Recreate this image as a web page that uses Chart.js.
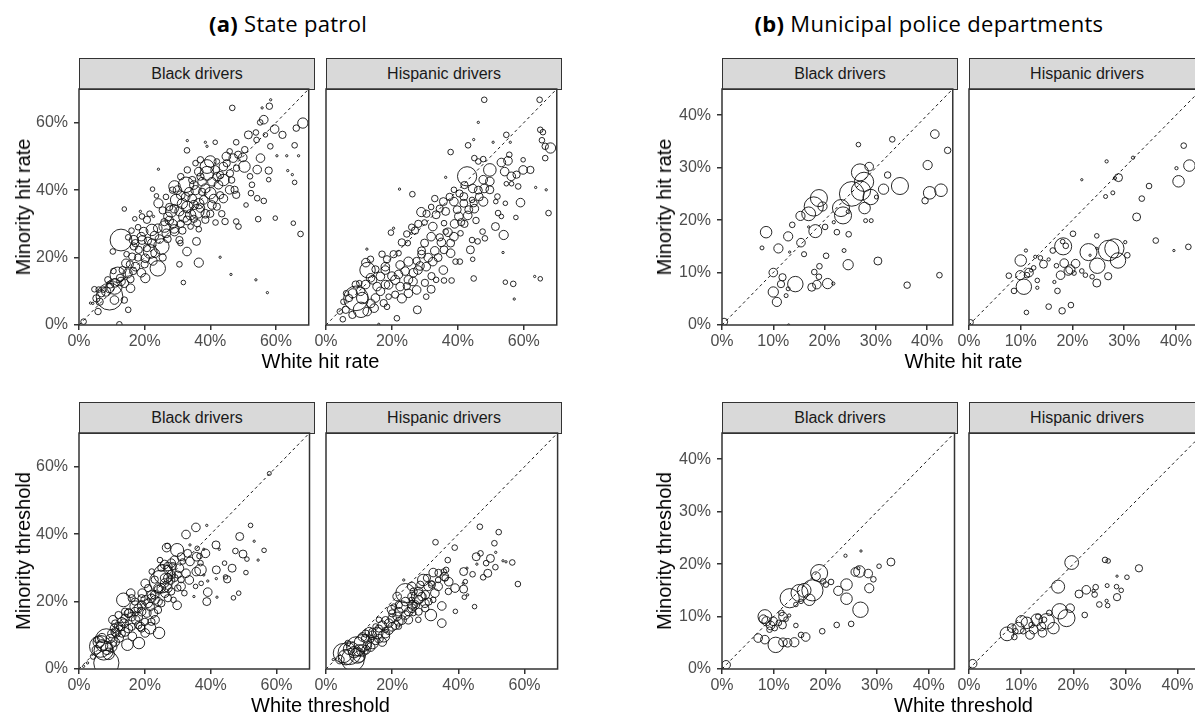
<!DOCTYPE html>
<html><head><meta charset="utf-8">
<script src="https://cdn.jsdelivr.net/npm/chart.js@4.4.1/dist/chart.umd.min.js"></script>
<style>
html,body{margin:0;padding:0;background:#fff;}
#page{position:relative;width:1195px;height:715px;overflow:hidden;background:#fff;font-family:"Liberation Sans",Arial,sans-serif;}
.strip{position:absolute;box-sizing:border-box;background:#d9d9d9;border:1.5px solid #333;color:#1a1a1a;font-size:16px;display:flex;align-items:center;justify-content:center;line-height:1;}
.cv{position:absolute;}
.gt{position:absolute;font-family:"Open Sans",Lato,sans-serif;font-size:22px;letter-spacing:0.3px;color:#000;transform:translate(-50%,-50%);white-space:nowrap;line-height:1;}
.xt{position:absolute;font-size:20px;color:#000;transform:translate(-50%,-50%);white-space:nowrap;line-height:1;}
.yt{position:absolute;font-size:20px;color:#000;transform:translate(-50%,-50%) rotate(-90deg);white-space:nowrap;line-height:1;}
</style></head><body><div id="page"></div>
<script>
// ---------- data (values in %, third value = relative stop volume) ----------
const groupTitles = [['(a)', ' State patrol'], ['(b)', ' Municipal police departments']];
const facetLabels = ['Black drivers', 'Hispanic drivers'];
const yTitles = ['Minority hit rate', 'Minority threshold'];
const xTitles = ['White hit rate', 'White threshold'];
const stateTicks = [0, 20, 40, 60];
const muniTicks = [0, 10, 20, 30, 40];
const stateMax = 70;
const muniMax = 45;

const stateHitBlack = [[46.7,64.4,6],[55.8,64.4,1],[58,64.9,8],[58.4,66.8,1],[56.3,60.9,14],[55.2,60.1,6],[68.2,59.9,20],[66.2,58.4,8],[59.6,58.1,14],[62,56.4,10],[51.6,56.4,12],[53.9,57.1,6],[56.8,56.4,4],[54.1,54.9,6],[33,54.7,1],[32.9,51.8,6],[38.5,54.2,1],[41.5,54.2,4],[47.9,54.2,6],[58.3,53,6],[65.7,53.3,6],[39,53,1],[24.2,46.2,1],[60.3,50.2,1],[63.3,50.2,1],[66.9,50.2,1],[57.8,45.8,10],[63.6,45.8,1],[65,44.6,1],[65.7,42.3,4],[57.8,43.1,4],[52.1,44.1,6],[52.7,41.6,6],[54.3,46.1,14],[55.3,49.5,14],[49.9,49.7,14],[50.4,47,25],[54.3,37.6,6],[56.3,36.8,6],[52.4,39.1,6],[50.9,35.6,4],[54.6,31.4,6],[59.8,31.7,4],[65.3,30.2,4],[67.5,27,6],[47.9,30.7,6],[48.6,29.2,6],[44.5,30.7,8],[43,20.1,1],[46.3,15,1],[53.9,13.4,1],[57.4,9.6,1],[31.8,12.6,4],[30.6,18,6],[32.9,21.8,14],[36.5,18.5,16],[35.8,24.8,12],[30.9,24.3,6],[13.8,34.4,4],[12.8,25.2,90],[10.3,21.8,6],[24,16.8,45],[25.1,23.3,45],[22.2,28.2,25],[24.2,36.1,16],[22.4,40.3,4],[23.6,38.3,4],[9.3,8.4,135],[11.8,14.9,45],[10.8,11.4,45],[14.8,15.3,16],[17.2,17.3,14],[15.7,10.9,14],[20.2,13.9,16],[20.2,19.8,14],[16.7,25.2,16],[19,26.2,14],[21.7,21.8,36],[4.7,10.6,6],[4.2,6.4,1],[5.8,4,8],[1.4,1,6],[15,4.5,6],[12.3,0.2,6],[32.6,41.6,45],[29.1,41.1,25],[40,48.5,25],[42,48.5,6],[44.9,50,14],[45.9,51.5,6],[44,47,14],[39,47,36],[39,45,36],[36.5,45.5,14],[42,44,14],[44,43,25],[45.9,40.1,14],[47.4,40.1,10],[47.9,38.6,10],[42.5,41.6,14],[40,39.1,25],[38,37.1,14],[40.5,35.6,14],[36,33.7,36],[34,32.7,20],[32.1,32.2,25],[30.6,33.7,16],[29.6,37.1,25],[28.1,33.7,25],[27.1,32.2,14],[26.1,29.2,25],[24,28.7,14],[26.6,27.2,14],[29.1,27.7,14],[30.6,25.2,10],[28.6,30,14],[35,35.6,16],[37,34.7,14],[42,35.1,10],[38.5,31.2,10],[41.6,30.4,6],[36,30.2,10],[34,29.2,6],[36.5,28.4,6],[19.2,32.2,6],[18.7,33.7,1],[22.7,32.2,1],[20.7,31.2,10],[19.7,27.7,14],[19.2,25.2,14],[17.2,24.3,10],[16.7,23.3,10],[18.2,22.3,10],[20.7,22.8,10],[16.2,20.3,10],[14.3,18.3,14],[13.3,16.3,10],[8.8,13.4,8],[8.3,9.9,16],[6.8,9.4,10],[5.3,7.9,10],[6.3,6.9,10],[9.3,10.9,16],[12.8,12.9,14],[13.8,12.4,14],[15.7,13.6,10],[13.8,7.4,8],[10.8,7.4,14],[22.2,24.3,14],[23.2,21.3,14],[33.5,39.5,14],[31,38.5,14],[35.5,40,16],[37.5,42.5,14],[34.5,43,10],[31,30,10],[27.5,35,10],[25.5,34,10],[37.5,39.5,10],[43,38.5,10],[46,45,10],[48,46.5,8],[44,37.5,14],
 [30,40,14],[31.5,36,20],[33,35,25],[34.5,37.5,14],[36.5,36,20],[38.5,40.5,16],[40.5,42.5,14],[41.5,46,14],[43,44.5,10],[45,48,10],[46.5,43,8],[37,44,10],[35,41.5,14],[32.5,38,14],[29,34.5,14],[27.5,31,14],[26,30.5,10],[29,28.5,14],[31.5,28,10],[33,31,14],[35,31.5,10],[38.5,33,14],[40,33,10],[43.5,33,8],[41,37.5,14],[23,26.5,14],[24.5,25.5,14],[21,25,10],[18,20,10],[15.5,18,10],[12.5,14,10],[11,12.5,14],[9.5,12,10],[7.5,10.5,6],[6,10.5,6],[3.5,6.5,1],[16.5,16,10],[19,15.5,14],[22.5,19,14],[27,25.5,10],[25.5,20,10],[20,18,10],[14.5,21,6],[10.5,16,6],[47,49.5,14],[48.5,50.5,10],[50.5,52,8],[37,49,8],[35.5,48,6],[33,46,8],[31,44,8],[28.5,40,8],[26.5,38,6],[21.5,33,6],[17,31.5,4],[18,29,6],[16,28,6],[15,26,6]];

const stateHitHispanic = [[48,66.8,6],[64.8,66.8,6],[46.2,60.1,1],[54.7,56.4,6],[65,57.9,6],[65.8,57.2,6],[44.8,55,1],[43.1,53.3,6],[50.7,54.2,1],[55.9,54.2,1],[65.5,54.8,6],[66.5,53,8],[68.1,52.5,20],[37.8,51.3,6],[55.6,50.5,6],[59.8,49,4],[66.5,49.5,6],[55.2,48.7,14],[53.2,48.2,14],[45,49.5,6],[47.7,49.2,6],[46.2,48.5,6],[49.7,46,30],[42.8,44.1,70],[47.7,43.1,14],[49.7,42.6,14],[49.7,40.1,12],[54.2,45.5,14],[56.2,44.1,14],[57.8,44.6,10],[59.8,46,14],[62,46,10],[54.7,41.9,4],[56.3,41.9,4],[58.3,41.1,6],[63.6,40.8,1],[66.8,40.1,1],[67.5,33.2,6],[59,36.3,14],[52,38.1,6],[51.5,36.6,4],[54.4,36.1,4],[52.2,33.2,6],[53.2,32.2,4],[57.6,31.9,4],[51.4,29.2,12],[53.9,26.7,16],[47.5,27.7,6],[48.2,25.7,6],[46,24.8,6],[44.3,25.2,6],[43.8,22.3,12],[44.5,19.5,4],[44.8,13.8,6],[53.7,21.5,1],[54.4,12.7,4],[56.8,12.2,6],[57.1,7.7,1],[63.3,14.4,1],[65,13.7,4],[36.3,43.8,1],[26.2,38.8,6],[22.3,40.3,1],[28.9,33.5,16],[33.4,32.7,12],[29.9,30.4,6],[31.9,35,6],[19.7,27.4,6],[20.5,28.7,1],[12.4,22.5,1],[12.1,18.5,14],[12.6,16.3,45],[9.1,7.9,115],[10.6,4.5,45],[8.1,9.4,16],[6.1,9.4,6],[5.3,6.9,6],[4.2,4,6],[5.1,1.7,6],[21.5,2,6],[16,0.2,1],[27.7,4.5,12],[14.6,5,14],[13.6,6.4,14],[14.1,13.4,14],[16.5,14.4,14],[18,16.3,14],[19,11.9,14],[21,13.4,16],[22.5,11.4,14],[23,7.9,16],[19,8.4,6],[18.5,5.4,6],[25,9.4,14],[27.5,10.4,14],[30.4,8.4,6],[31.9,10.6,12],[25,13.4,14],[26.4,12.9,14],[27.9,16.3,14],[30.4,17.3,14],[32.4,18.8,14],[35.6,16.3,14],[35.8,13.2,6],[38.1,13.2,6],[33.4,13.4,6],[25,18.8,16],[22.5,17.8,14],[22,21.3,6],[24.8,24.3,6],[25.9,27.2,1],[29.9,24.3,12],[31.9,26.2,14],[32.4,29.2,14],[35.8,30.2,6],[36.3,27.7,6],[38.8,26.2,14],[37.8,24.3,12],[37.8,21.3,14],[35.8,22.3,12],[39.3,18.8,6],[40.6,18.8,6],[40.8,27.2,6],[40.3,32.2,14],[39.8,34.2,12],[38.8,36.6,14],[41.8,36.1,12],[44.3,37.1,6],[44.8,36.1,10],[41.8,38.1,12],[38.8,40.1,6],[35.6,36.6,12],[36.3,33.7,12],[43.3,34.2,12],[47.7,36.6,16],[46.2,40,12],[18,17.3,14],[15.5,11.4,14],[10.1,12.4,6],[34,20,12],[29,21,12],[27,28,10],[34.5,26,10],[42,30,10],[45.5,31,8],
 [10.5,10,14],[12,12,14],[13.5,14,14],[9,12,10],[7,8,10],[11,8,25],[15,8,14],[16.5,10,14],[18,12,14],[20,14.5,14],[22,15,14],[24,16,14],[26.5,15.5,14],[28.5,17.5,14],[29,22,12],[31,20,14],[33,22,14],[35,24.5,14],[37,27.5,14],[39,30,14],[41,30.5,10],[43,32.5,14],[45,34.5,14],[46.5,38,12],[48,40.5,14],[44.5,40.5,14],[42,41.5,10],[40.5,39,10],[37.5,38,10],[34.5,34.5,10],[33,37.5,8],[30.5,33,10],[28,30,10],[26,29,8],[24.5,27,8],[23,24.5,10],[20.5,21,10],[18.5,19.5,10],[17,21,8],[15,16.5,10],[13.5,19.5,8],[27.5,19,10],[32,14.5,10],[30,12.5,10],[24.5,11.5,10],[21,9,10],[17.5,6.5,10],[12.5,4,14],[8,3,10],[6,4.5,10]];

const muniHitBlack = [[0.4,0.6,10],[13,0,1],[26.6,34.4,4],[33.2,35.4,6],[8.6,17.7,25],[7.8,14.7,3],[11,14.6,16],[12.9,16.9,16],[13.7,19.1,6],[15.3,20.8,16],[15.4,15.7,14],[16,13.5,5],[13.2,13.9,1],[16.9,18.7,1],[16.9,21.2,36],[17.9,22.6,70],[18.9,24.2,55],[19.6,22.6,16],[18.2,17.9,32],[20.1,18.7,6],[20.3,13.2,6],[22.4,17.7,6],[24.7,17.3,6],[23.8,14.2,3],[21.8,19.6,2],[23.2,22.3,55],[23.6,20.9,55],[24.6,21.6,3],[25.3,25,115],[26.9,29.1,55],[27.7,27.3,70],[27.1,25.6,70],[29,24.4,45],[28.7,30.2,14],[27.8,22.3,25],[28,19.9,3],[29.1,19.9,3],[30.1,24.4,3],[31.5,25.9,20],[32.3,28.6,8],[30.4,12.2,12],[24.6,11.5,20],[19,11.2,6],[18,10.1,6],[10,10,14],[11.8,9.1,10],[11.5,7.8,10],[12.9,6.9,3],[14.3,7.8,45],[17.5,7.2,12],[18.5,7.7,14],[20.6,7.9,20],[21.7,7.9,2],[10,6.3,20],[10.7,4.4,16],[12.5,5.6,3],[18.9,9.2,6],[41.5,36.4,14],[44,33.3,8],[40.1,30.5,16],[34.7,26.5,55],[40.5,25.2,30],[42.7,25.7,30],[39.6,23.7,8],[42.4,9.5,6],[36.1,7.6,8]];

const muniHitHispanic = [[0.3,0.5,6],[41.5,34.2,6],[42.6,30.4,25],[40.5,27.4,25],[40.1,29.9,2],[26.6,31.2,2],[31.7,31.9,2],[28.2,28,2],[28.9,28.1,12],[21.8,27.7,1],[34.8,26.5,6],[33.4,24.1,6],[27.8,25.2,3],[26.4,24.5,3],[32.4,20.6,12],[36.1,16.1,6],[39.6,14.2,1],[42.4,14.9,6],[30.2,15.8,2],[30.6,13.3,6],[28.8,12.3,45],[27,14.2,80],[28.1,14.6,70],[26.9,9.3,10],[24.8,11.3,45],[24.7,8,12],[23.1,13.9,55],[23.4,13.3,1],[24.7,17,4],[24.7,14.6,1],[23.8,9.2,4],[22.5,9.5,4],[21.8,10.3,4],[20.1,17.4,6],[20.6,11.7,14],[19.6,10.6,16],[20.3,9.9,4],[19.2,10.3,14],[18.4,11.8,14],[16.9,11.3,4],[17.7,9.5,14],[17.1,6.5,6],[16.5,8.2,2],[18.2,15,55],[18.7,15.1,6],[18.1,15.9,4],[16.2,14.2,6],[14.4,11.6,12],[15.4,12.5,2],[13.8,12.8,4],[12.8,13,2],[11,14.2,2],[10,12.3,25],[9.9,9.5,16],[11.6,10,14],[11.2,9.5,6],[12,10.4,2],[12.5,10.9,4],[10.6,7.3,45],[8.7,6.5,6],[7.7,9.4,6],[13.2,8.5,4],[13.2,7.1,2],[11.1,2.4,4],[15.4,3.5,6],[18,2.7,8],[19.7,3.8,6]];

const stateThrBlack = [[57.8,58,3],[38.8,42.6,1],[35.5,42,14],[32.5,39.9,14],[52.1,42.6,4],[48.8,39.3,12],[53.2,37.9,1],[56.2,35.2,4],[54.4,32.3,1],[41.6,36.8,12],[42.6,35.5,1],[44.2,31.4,4],[46.5,29.9,12],[47.5,35,6],[49.8,34.1,12],[51,32.6,4],[50.7,28.6,4],[45,26.6,10],[44.5,27.3,4],[41.7,29.4,12],[41.7,26.8,1],[39.1,26.1,1],[37.1,25.4,4],[39.1,22.8,14],[38.8,20,12],[41.9,21.3,1],[48.5,22.5,4],[46.9,21.1,4],[34.9,21.5,1],[35.4,24.5,4],[36.9,29.4,25],[35.6,28.9,14],[35.7,33.3,14],[35.9,35.8,4],[33,34.3,12],[31,33.3,12],[29.8,35.3,32],[26.9,36.5,6],[26.6,36,14],[28,31.4,14],[30.5,29.9,14],[32.5,28.4,14],[33.5,26.4,14],[32,22.5,6],[31,24.5,14],[29.8,18.9,14],[28.7,20.5,6],[25.6,28.1,70],[24.9,25.9,100],[24.1,23.5,14],[23.1,20.5,14],[22.6,16.6,14],[24.3,10.7,25],[21.6,12.1,25],[18.2,7.7,25],[14.7,7.2,25],[13.5,20.5,36],[15.2,16.6,14],[17.2,18.5,25],[19.2,22.5,14],[20.1,20.5,14],[20.6,16.6,14],[17.2,14.6,14],[13.7,13.6,14],[11.3,10.7,14],[12.2,9.2,14],[9.8,6.7,25],[8.3,8.7,90],[8.3,1.8,120],[6.5,6.7,90],[5.3,5.7,14],[2.6,1.8,1],[1.4,0.8,1],[16.2,9.7,14],[20.1,10.7,14],[15.7,22.5,14],[20.1,25.4,14],[22.1,28.9,6],[27,30.4,14],[24.6,32.3,6],[29,32.3,14],[31.5,31.9,6],[33.7,31.9,14],[33.7,36.8,1],[37.9,35.5,1],[38.4,34.3,14],[36.6,33.5,6],[36.9,31.4,6],[37.9,27.9,1],[27.8,26.4,14],[26.1,22.5,14],[21.6,18.5,14],[23.1,14.6,14],[18.7,12.6,14],[10.3,14.6,14],[12.7,12.6,14],[10.8,12.1,14],[7,9.2,16],[4.3,3.7,6],[5.3,8.7,6],[18,15.5,14],[22,22,14],[26,27,14],[27,24,14],[15,12,14],[11,8,14],[14,11,14],[19,17,14],[24,20,14],
 [7,7,25],[8.5,6,25],[9.5,9,14],[10,10.5,14],[11,11,14],[12,12.5,14],[13,14,14],[14,15,14],[15,16.5,14],[16,15.5,14],[17,17,14],[18,18,14],[19,19,14],[21,19.5,14],[22,21,14],[23,22,14],[24,24,14],[25,24,14],[26,25.5,14],[27,27,14],[28,28,14],[27,29.5,14],[28.5,30.5,10],[29,27,10],[30,28,10],[26,31,14],[25,30,10],[23,26.5,10],[21,24,10],[19,21,10],[17,20,10],[16,21,10],[14,17,10],[12,16,10],[11,13.5,10],[16,12.5,10],[18,13,10],[20,14,10],[22,14,10],[19,12,10],[24,17.5,10],[25,19.5,10],[27,21,10],[28,23,10],[30,24,8],[31,26.5,8],[13,10.5,10],[9,4.5,25],[6,8,25],[7.5,5.5,70]];

const stateThrHispanic = [[46.5,42.2,6],[52.2,40.6,6],[33.1,37.6,6],[50.9,37.3,6],[38.9,36,6],[36.8,32.3,6],[51.3,34.6,1],[45.4,33.3,12],[46.7,34.3,6],[49.7,32.8,12],[48.4,31.4,6],[45.6,31.1,1],[51.2,30.2,6],[53.5,32.1,1],[54.4,31.8,1],[56.3,31.6,6],[58,25.2,6],[48.9,28.4,12],[47.5,27.2,6],[44.3,28.1,6],[42.6,29.9,1],[41.6,28.9,12],[42.1,25.9,4],[41.5,25.4,1],[41.6,23.7,12],[41.8,21.3,4],[42.8,22,1],[44.9,18.5,4],[39.1,17.1,4],[39,24,14],[37.1,25.9,14],[35.8,27.4,14],[35.6,28.9,6],[36.3,29.4,6],[32.4,28.6,14],[33.9,26.4,6],[35,18.7,14],[35,13.6,14],[31.7,16,25],[29.4,26.4,25],[30.9,24.5,14],[32.9,22.5,14],[26.4,16.6,6],[27.9,21.5,36],[25.9,24.5,14],[24,22.5,70],[23,18.5,25],[21.5,15.6,14],[19.8,17.6,14],[19,13.6,14],[17.5,9.7,25],[15.5,10.7,25],[14.1,7.7,25],[13.1,11.1,14],[11.1,7.7,55],[9.1,6.7,70],[7.1,4.7,100],[5.1,4.7,70],[4.2,2.8,14],[8.1,2.8,100],[10.1,3.7,25],[12.1,5.7,14],[16,14.6,6],[18,11.6,6],[22,12.6,6],[24.9,14.6,14],[27.9,14.6,6],[26.9,19,6],[29.9,19.5,14],[32.4,20.5,6],[33.9,24.5,14],[31.9,25.4,6],[25.9,20.5,6],[23.5,26.4,1],[21.5,21.5,14],[20.5,18.5,6],[15,12.6,6],[13.6,8.7,6],[6.6,7.7,6],[2.2,2.8,1],[12,9,14],[17,13,14],[20,15,14],[26,19,14],[28,23,14],[22,17,14],[10,5.5,25],[14,10,14],
 [6,3.5,45],[7,6,25],[8.5,5,25],[9.5,4,45],[11,5.5,25],[12.5,7,14],[13.5,6.5,14],[15,8.5,14],[16,9,14],[17,8,14],[18,10.5,14],[19,11.5,14],[20,12.5,14],[21,13,14],[22,14,14],[23,14.5,14],[24,16,14],[25,17,14],[26,18,14],[27,19,14],[28,20.5,14],[29,21.5,14],[30,22,14],[26,21.5,14],[24,20,14],[22,19,10],[20,16.5,10],[18,14.5,10],[16,12,10],[14,11,10],[12,10.5,10],[11,9.5,14],[28,17,10],[30,18,10],[31,20,10],[26.5,23,10],[28.5,25,10],[30.5,27,10],[32,25,10],[34,28.5,10],[36,27,8],[37,23,8]];

const muniThrBlack = [[0.8,0.8,14],[7,5.9,14],[8.3,5.6,14],[10.4,4.6,45],[11.8,5.1,14],[12.7,5,14],[14,5.1,16],[15.3,6.5,6],[16.2,6.1,14],[19.4,7.2,6],[22.2,8.4,6],[25,8.6,6],[14.3,8.3,4],[8.3,10,36],[8.6,9.1,16],[9.4,8.3,14],[9.9,9.1,14],[9.2,7.5,6],[10.2,7.8,6],[11,8.8,6],[11.7,8.4,12],[11.8,10,14],[11.5,10.7,6],[12.4,9.5,4],[13,10.2,2],[8,9.5,14],[13.1,13.5,70],[15,14.5,55],[15.9,15,36],[17.5,15,85],[16.9,13.2,25],[15.3,12.9,4],[14.3,12.3,4],[18.8,18.3,55],[18.2,17.7,14],[19.6,16.7,6],[21.1,16.6,6],[20.1,16.1,6],[22.5,14.9,16],[24.1,16.1,25],[24.1,13.4,25],[26.8,11.3,45],[28.5,15.4,16],[29.3,17.1,6],[28.3,18.2,14],[26.6,18.6,25],[25.8,18.5,14],[26.4,19.2,2],[23.9,21.6,2],[26.9,22.5,1],[30.4,19.6,4],[32.7,20.4,12]];

const muniThrHispanic = [[0.7,1,14],[19.7,20.3,36],[17.1,15.7,32],[21.1,14.3,12],[22.5,15.1,14],[24.3,15.6,6],[23.9,14.9,2],[24.1,14.2,6],[26.1,20.8,6],[26.7,20.6,4],[32.6,19.2,10],[28.4,17.7,1],[30.3,17.5,4],[26.5,15.9,3],[28.3,15.7,4],[29.2,15,4],[28.4,13.7,10],[26.4,13,2],[26.6,12.1,4],[25,12.3,6],[22.2,10.3,6],[19.4,11.6,14],[18.7,9.7,55],[17.4,11,45],[16.2,7.8,25],[15.4,10.7,6],[14.9,9.1,45],[13.9,8.1,14],[13,9.4,25],[12.4,7.5,14],[11.7,6.5,14],[11.1,8.8,25],[10.1,9.1,25],[9.5,7.8,25],[8.9,7.2,6],[8.2,7.8,14],[7.3,6.7,36],[8.7,6.1,6],[10.4,7.2,6],[14.1,6.9,14],[12,8.4,6],[13.3,10,6],[14.4,9.4,6]];

// ---------- layout ----------
const PW = 236;           // panel size (px)
const FONT = '"Liberation Sans", Arial, sans-serif';
const page = document.getElementById('page');
const groups = [
  { title: groupTitles[0], left: [79, 326], max: stateMax, ticks: stateTicks, sets: [[stateHitBlack, stateHitHispanic], [stateThrBlack, stateThrHispanic]], ytx: 23, tx: 288 },
  { title: groupTitles[1], left: [722, 969], max: muniMax, ticks: muniTicks, sets: [[muniHitBlack, muniHitHispanic], [muniThrBlack, muniThrHispanic]], ytx: 664, tx: 929 }
];
const rowTop = [89, 433];
const STRIP = 31;

function radiusOf(w) { return 1.15 * Math.sqrt(w); }

const borderPlugin = {
  id: 'panelBorder',
  afterDraw(chart) {
    const a = chart.chartArea, c = chart.ctx;
    c.save(); c.strokeStyle = '#333'; c.lineWidth = 1.5;
    c.strokeRect(a.left, a.top, a.right - a.left, a.bottom - a.top);
    c.restore();
  }
};

function addText(cls, txt, x, y) {
  const d = document.createElement('div');
  d.className = cls; d.style.left = x + 'px'; d.style.top = y + 'px';
  if (Array.isArray(txt)) { d.innerHTML = '<b>' + txt[0] + '</b>' + txt[1]; } else d.textContent = txt;
  page.appendChild(d);
}

function makePanel(data, L, T, max, ticks, showY) {
  const PADL = showY ? 70 : 24, PADR = 8, PT = 18, XH = 32, YW = 60;
  const cv = document.createElement('canvas');
  const W = PADL + PW + PADR, H = PT + PW + XH;
  cv.width = W; cv.height = H; cv.className = 'cv';
  cv.style.left = (L - PADL) + 'px'; cv.style.top = (T - PT) + 'px';
  cv.style.width = W + 'px'; cv.style.height = H + 'px';
  page.appendChild(cv);
  const tickOpts = (pad) => ({ callback: v => v + '%', font: { family: FONT, size: 16, lineHeight: 1 }, color: '#4d4d4d', padding: pad, maxRotation: 0, autoSkip: false });
  const gridOpts = { display: true, drawOnChartArea: false, drawTicks: true, tickLength: 5, color: '#333', lineWidth: 1.5 };
  const yScale = { type: 'linear', min: 0, max: max, display: showY, afterBuildTicks: s => { s.ticks = ticks.map(v => ({ value: v })); },
                   ticks: tickOpts(6), grid: gridOpts, border: { display: false } };
  if (showY) yScale.afterFit = s => { s.width = YW; };
  new Chart(cv, {
    type: 'bubble',
    data: { datasets: [
      { type: 'line', data: [{ x: 0, y: 0 }, { x: max, y: max }], borderColor: '#000', borderWidth: 0.9, borderDash: [3, 3], pointRadius: 0, fill: false, clip: 0, order: 0 },
      { type: 'bubble', data: data.map(p => ({ x: p[0], y: p[1], r: radiusOf(p[2]) })), backgroundColor: 'rgba(0,0,0,0)', borderColor: '#111', borderWidth: 0.9, hoverRadius: 0, clip: 0, order: 1 }
    ] },
    options: {
      responsive: false, animation: false, devicePixelRatio: 1, events: [],
      layout: { padding: { left: showY ? PADL - YW : PADL, right: PADR, top: PT, bottom: 0 } },
      plugins: { legend: { display: false }, tooltip: { enabled: false } },
      scales: {
        x: { type: 'linear', min: 0, max: max, afterBuildTicks: s => { s.ticks = ticks.map(v => ({ value: v })); },
             ticks: tickOpts(4), grid: gridOpts, border: { display: false }, afterFit: s => { s.height = XH; } },
        y: yScale
      }
    },
    plugins: [borderPlugin]
  });
}

groups.forEach(g => {
  const cx = (g.left[0] + g.left[1] + PW) / 2;
  addText('gt', g.title, g.tx, 23);
  rowTop.forEach((T, ri) => {
    g.left.forEach((L, ci) => {
      const s = document.createElement('div');
      s.className = 'strip';
      s.style.left = L + 'px'; s.style.top = (T - STRIP) + 'px';
      s.style.width = PW + 'px'; s.style.height = (STRIP + 1) + 'px';
      s.textContent = facetLabels[ci];
      page.appendChild(s);
      makePanel(g.sets[ri][ci], L, T, g.max, g.ticks, ci === 0);
    });
    addText('yt', yTitles[ri], g.ytx, T + PW / 2);
    addText('xt', xTitles[ri], cx, T + PW + 36);
  });
});
</script>
</body></html>
